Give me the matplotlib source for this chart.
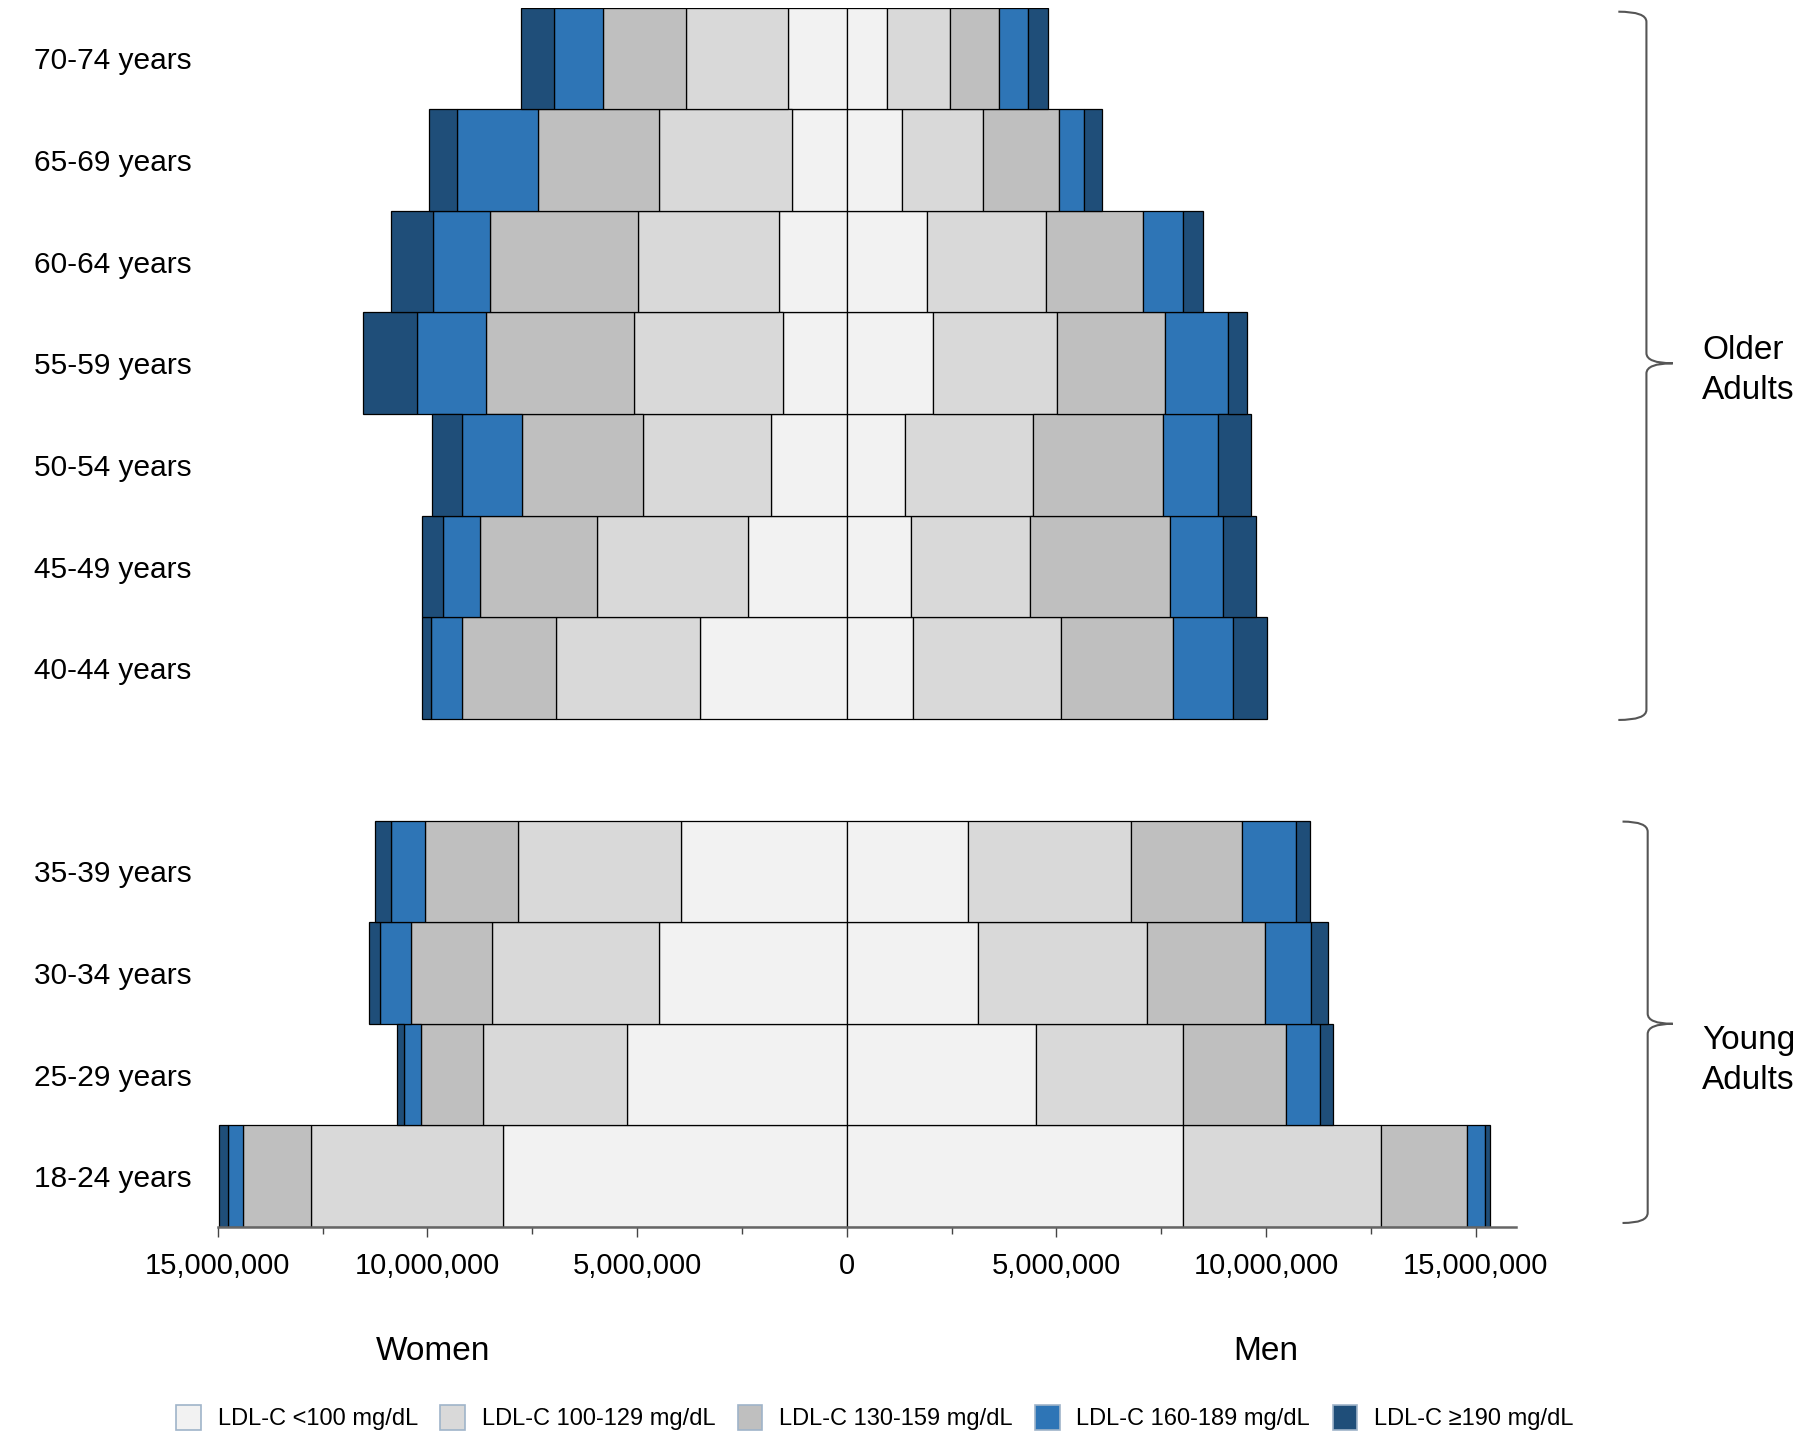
import matplotlib.pyplot as plt
import numpy as np
from matplotlib.path import Path
from matplotlib.patches import PathPatch, Patch
from matplotlib.ticker import FuncFormatter, MultipleLocator

plt.rcParams['font.family'] = ['Liberation Sans', 'DejaVu Sans']

ages = ['18-24 years', '25-29 years', '30-34 years', '35-39 years',
        '40-44 years', '45-49 years', '50-54 years', '55-59 years',
        '60-64 years', '65-69 years', '70-74 years']
ypos = [0, 1, 2, 3, 5, 6, 7, 8, 9, 10, 11]

categories = ['LDL-C <100 mg/dL', 'LDL-C 100-129 mg/dL', 'LDL-C 130-159 mg/dL',
              'LDL-C 160-189 mg/dL', 'LDL-C \u2265190 mg/dL']
colors = ['#f2f2f2', '#d9d9d9', '#bfbfbf', '#2e75b6', '#1f4e79']

# millions of people, rows follow `ages`, columns follow `categories`
women = np.array([
    [8.19, 4.58, 1.62, 0.36, 0.22],
    [5.23, 3.45, 1.48, 0.41, 0.16],
    [4.47, 4.00, 1.92, 0.74, 0.27],
    [3.95, 3.89, 2.22, 0.82, 0.36],
    [3.51, 3.42, 2.25, 0.74, 0.22],
    [2.36, 3.59, 2.79, 0.90, 0.49],
    [1.81, 3.04, 2.90, 1.42, 0.71],
    [1.51, 3.56, 3.53, 1.64, 1.29],
    [1.62, 3.37, 3.51, 1.37, 1.01],
    [1.31, 3.18, 2.88, 1.92, 0.68],
    [1.40, 2.44, 1.97, 1.18, 0.79],
]) * 1e6

men = np.array([
    [8.03, 4.71, 2.05, 0.44, 0.11],
    [4.52, 3.51, 2.44, 0.82, 0.30],
    [3.12, 4.03, 2.82, 1.10, 0.41],
    [2.88, 3.89, 2.66, 1.29, 0.33],
    [1.59, 3.51, 2.68, 1.42, 0.82],
    [1.53, 2.85, 3.34, 1.26, 0.79],
    [1.40, 3.04, 3.10, 1.32, 0.79],
    [2.05, 2.96, 2.58, 1.51, 0.44],
    [1.92, 2.82, 2.33, 0.96, 0.47],
    [1.31, 1.95, 1.81, 0.58, 0.44],
    [0.96, 1.51, 1.15, 0.71, 0.47],
]) * 1e6

fig = plt.figure(figsize=(18, 14.38), dpi=100)
ax = fig.add_axes([0.121, 0.1467, 0.721, 0.848])

w_left = np.zeros(len(ages))
m_left = np.zeros(len(ages))
for i, c in enumerate(colors):
    ax.barh(ypos, -women[:, i], left=-w_left, height=1.0, color=c,
            edgecolor='black', linewidth=0.9)
    ax.barh(ypos, men[:, i], left=m_left, height=1.0, color=c,
            edgecolor='black', linewidth=0.9)
    w_left += women[:, i]
    m_left += men[:, i]

ax.set_xlim(-15e6, 15.95e6)
ax.set_ylim(-0.5, 11.5)

ax.xaxis.set_major_locator(MultipleLocator(5e6))
ax.xaxis.set_minor_locator(MultipleLocator(2.5e6))
ax.xaxis.set_major_formatter(FuncFormatter(lambda v, p: f'{abs(v):,.0f}'))
ax.tick_params(axis='x', which='major', length=7, width=1, color='#444444',
               labelsize=21, pad=11)
ax.tick_params(axis='x', which='minor', length=5, width=1, color='#444444')

ax.set_yticks(ypos)
ax.set_yticklabels(ages)
ax.tick_params(axis='y', length=0, labelsize=21.5, pad=132)
for lab in ax.get_yticklabels():
    lab.set_ha('left')

for s in ['top', 'right', 'left']:
    ax.spines[s].set_visible(False)
ax.spines['bottom'].set_color('#666666')
ax.spines['bottom'].set_linewidth(1.8)

ax.text(-9.87e6, -1.72, 'Women', ha='center', va='center', fontsize=24,
        clip_on=False)
ax.text(10e6, -1.72, 'Men', ha='center', va='center', fontsize=24,
        clip_on=False)


def brace(x0, xv, xt, ytop, ybot, ymid, r=0.1):
    verts = [(x0, ytop), (xv, ytop), (xv, ytop - r),
             (xv, ymid + r), (xv, ymid), (xt, ymid),
             (xv, ymid), (xv, ymid - r),
             (xv, ybot + r), (xv, ybot), (x0, ybot)]
    codes = [Path.MOVETO, Path.CURVE3, Path.CURVE3,
             Path.LINETO, Path.CURVE3, Path.CURVE3,
             Path.CURVE3, Path.CURVE3,
             Path.LINETO, Path.CURVE3, Path.CURVE3]
    ax.add_patch(PathPatch(Path(verts, codes), fill=False, edgecolor='#555555',
                           lw=1.5, clip_on=False))


brace(18.4e6, 19.07e6, 19.7e6, 11.46, 4.49, 8.0)
brace(18.5e6, 19.1e6, 19.7e6, 3.49, -0.46, 1.5)
ax.text(20.4e6, 7.93, 'Older\nAdults', ha='left', va='center', fontsize=24,
        linespacing=1.35, clip_on=False)
ax.text(20.4e6, 1.14, 'Young\nAdults', ha='left', va='center', fontsize=24,
        linespacing=1.35, clip_on=False)

handles = [Patch(facecolor=c, edgecolor='#9fb4c9', linewidth=1.2) for c in colors]
fig.legend(handles, categories, loc='center', bbox_to_anchor=(0.486, 0.014),
           ncol=5, frameon=False, fontsize=17, handlelength=1.05,
           handleheight=1.2, columnspacing=0.95, handletextpad=0.7)

fig.savefig('out.png', dpi=100)
